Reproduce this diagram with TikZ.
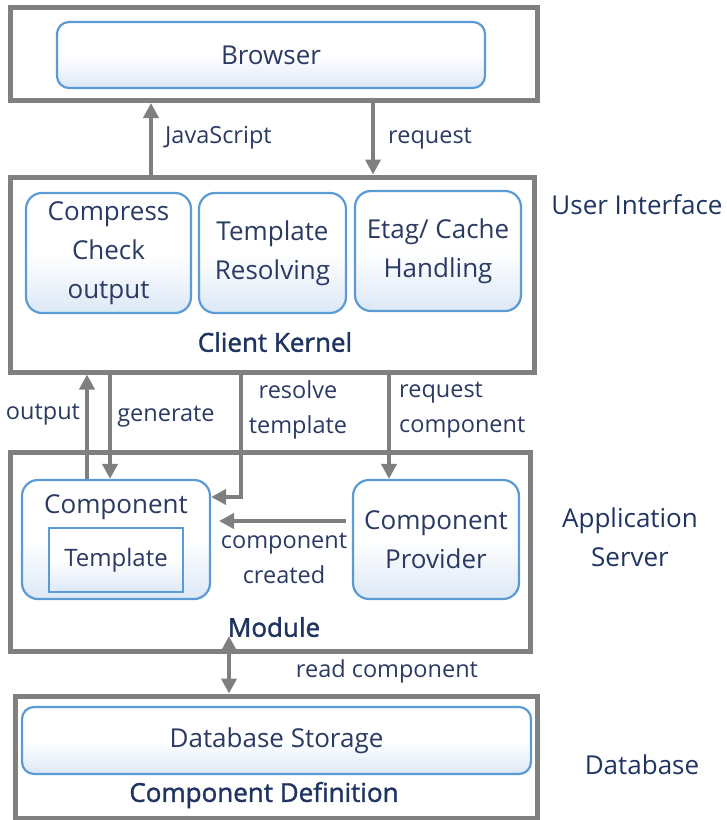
\documentclass[tikz,border=0pt]{standalone}
\usepackage{fontspec}
\setmainfont{Open Sans}
\newfontfamily\titlefont{Open Sans}[FakeBold=1.5]
\usetikzlibrary{arrows.meta}
\definecolor{navy}{HTML}{1F3461}
\definecolor{lbl}{HTML}{2A3A62}
\definecolor{boxgray}{HTML}{808080}
\definecolor{arrgray}{HTML}{7F7F7F}
\definecolor{bblue}{HTML}{5B9BD5}
\definecolor{bfill}{HTML}{DCE8F6}
\begin{document}
\begin{tikzpicture}[x=1pt,y=-1pt,
  outerbox/.style={draw=boxgray, line width=5pt, inner sep=0pt},
  innerbox/.style={draw=bblue, line width=2.2pt, rounded corners=16pt,
    top color=white, bottom color=bfill, middle color=white,
    align=center, text=lbl, font=\fontsize{26}{39}\selectfont, inner sep=0pt},
  sqbox/.style={innerbox, rounded corners=0pt},
  lab/.style={text=lbl, font=\fontsize{23.5}{35}\selectfont, inner sep=0pt, align=center},
  ttl/.style={text=navy, font=\titlefont\fontsize{26}{39}\selectfont, inner sep=0pt, align=center},
  side/.style={text=navy, font=\fontsize{26}{39}\selectfont, inner sep=0pt, align=center},
  arr/.style={draw=arrgray, line width=4pt, -{Triangle[length=15pt,width=15pt]}},
  darr/.style={draw=arrgray, line width=4pt, {Triangle[length=15pt,width=15pt]}-{Triangle[length=15pt,width=15pt]}}
]
\useasboundingbox (0,0) rectangle (727,820);

% outer boxes
\node[outerbox, minimum width=527pt, minimum height=93pt] (browserbox) at (273.5,54) {};
\node[outerbox, minimum width=524pt, minimum height=195pt] (kernelbox) at (272,274.5) {};
\node[outerbox, minimum width=520pt, minimum height=199pt] (appbox) at (270,551.5) {};
\node[outerbox, minimum width=522pt, minimum height=122pt] (dbbox) at (276,757) {};

% inner boxes
\node[innerbox, rounded corners=12pt, minimum width=428pt, minimum height=66pt] (browser) at (271,55) {Browser};
\node[innerbox, minimum width=165pt, minimum height=120pt] (compress) at (108.5,253) {Compress\\Check\\output};
\node[innerbox, minimum width=147pt, minimum height=120pt] (templres) at (272.5,253) {Template\\Resolving};
\node[innerbox, minimum width=166pt, minimum height=120pt] (etag) at (438,251) {Etag/ Cache\\Handling};
\node[innerbox, minimum width=188pt, minimum height=119pt] (component) at (116,539.5) {};
\node[lab, text=lbl, font=\fontsize{26}{39}\selectfont] (componentlbl) at (116,507) {Component};
\node[sqbox, font=\fontsize{24}{36}\selectfont, minimum width=134pt, minimum height=64pt] (template) at (116,560) {Template};
\node[innerbox, minimum width=166pt, minimum height=119pt] (provider) at (436,539.5) {Component\\Provider};
\node[innerbox, rounded corners=12pt, minimum width=509pt, minimum height=67pt] (dbstore) at (276.5,740.5) {Database Storage};

% titles
\node[ttl] (kerneltitle) at (275,342) {Client Kernel};
\node[ttl] (moduletitle) at (274,627) {Module};
\node[ttl] (deftitle) at (264,795) {Component Definition};

% side labels
\node[side] (ui) at (637,205) {User Interface};
\node[side] (as) at (630,537) {Application\\Server};
\node[side] (dbl) at (642,765) {Database};

% coordinates for connector columns
\coordinate (cJS) at (151,0);
\coordinate (cReq) at (373,0);
\coordinate (cOut) at (87,0);
\coordinate (cGen) at (110,0);
\coordinate (cRes) at (241,0);
\coordinate (cResY) at (0,497);
\coordinate (cRc) at (389,0);
\coordinate (ccStart) at (346,521);
\coordinate (ccEnd) at (219,521);
\coordinate (cRead) at (229,0);
\coordinate (readtop) at (229,636);

% connectors
\draw[arr] (cJS |- kernelbox.north) -- (cJS |- browserbox.south);
\draw[arr] (cReq |- browserbox.south) -- (cReq |- kernelbox.north);
\draw[arr] (cOut |- component.north) -- (cOut |- kernelbox.south);
\draw[arr] (cGen |- kernelbox.south) -- (cGen |- component.north);
\draw[arr] (cRes |- kernelbox.south) -- (cRes |- cResY) -- (component.east |- cResY);
\draw[arr] (cRc |- kernelbox.south) -- (cRc |- provider.north);
\draw[arr] (ccStart) -- (ccEnd);
\draw[darr] (readtop) -- (cRead |- dbbox.north);

% connector labels
\node[lab, anchor=west] (ljs) at (165,138) {JavaScript};
\node[lab, anchor=west] (lreq) at (388,139) {request};
\node[lab] (lout) at (43,415) {output};
\node[lab] (lgen) at (166,417) {generate};
\node[lab] (lres) at (298,410) {resolve\\template};
\node[lab, anchor=west, align=left] (lrc) at (399,410) {request\\component};
\node[lab] (lcc) at (284,558) {component\\created};
\node[lab] (lread) at (387,671) {read component};
\end{tikzpicture}
\end{document}
